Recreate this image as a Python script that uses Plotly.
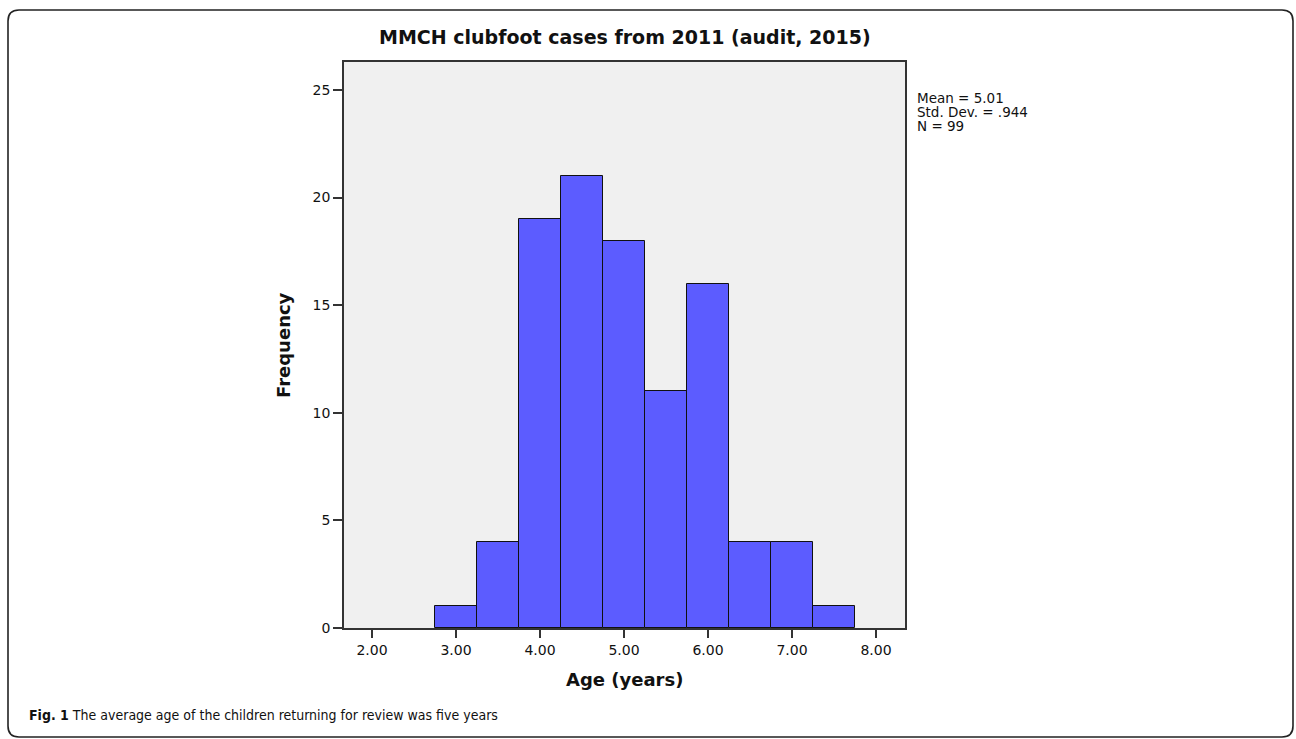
import plotly.graph_objects as go

# ---- data ----
bin_centers = [3.0, 3.5, 4.0, 4.5, 5.0, 5.5, 6.0, 6.5, 7.0, 7.5]
counts = [1, 4, 19, 21, 18, 11, 16, 4, 4, 1]
bin_width = 0.5
x_ticks = [2, 3, 4, 5, 6, 7, 8]
x_tick_labels = ["2.00", "3.00", "4.00", "5.00", "6.00", "7.00", "8.00"]
y_ticks = [0, 5, 10, 15, 20, 25]
stats_lines = ["Mean = 5.01", "Std. Dev. = .944", "N = 99"]
title_text = "MMCH clubfoot cases from 2011 (audit, 2015)"
caption_bold = "Fig. 1"
caption_text = " The average age of the children returning for review was five years"

W, H = 1296, 739
L, R, T, B = 344, 905, 62, 628  # plot area in pixels

def px(xp):
    return (xp - L) / (R - L)

def py(yp):
    return (B - yp) / (B - T)

FONT = "DejaVu Sans, Lucida Grande, Verdana, sans-serif"

fig = go.Figure()
fig.add_trace(go.Bar(
    x=bin_centers, y=counts, width=bin_width,
    marker=dict(color="#5c5cff", line=dict(color="#111111", width=1)),
    hoverinfo="x+y", showlegend=False,
))

# outer rounded border
x0, x1, y0, y1, r = 8, 1293, 10, 737, 11
def P(a, b):
    return f"{px(a):.5f},{py(b):.5f}"
path = (f"M {P(x0 + r, y0)} L {P(x1 - r, y0)} Q {P(x1, y0)} {P(x1, y0 + r)} "
        f"L {P(x1, y1 - r)} Q {P(x1, y1)} {P(x1 - r, y1)} "
        f"L {P(x0 + r, y1)} Q {P(x0, y1)} {P(x0, y1 - r)} "
        f"L {P(x0, y0 + r)} Q {P(x0, y0)} {P(x0 + r, y0)} Z")

annotations = []
for i, line in enumerate(stats_lines):
    annotations.append(dict(
        x=px(915), y=py(98 + 14 * i), xref="paper", yref="paper",
        text=line, showarrow=False, xanchor="left", yanchor="middle",
        font=dict(family=FONT, size=13.5, color="#111111"),
    ))
annotations.append(dict(
    x=0.5, y=py(37), xref="paper", yref="paper", text=title_text,
    showarrow=False, xanchor="center", yanchor="middle",
    font=dict(family=FONT, size=19, color="#111111", weight="bold"),
))
annotations.append(dict(
    x=px(283), y=0.5, xref="paper", yref="paper", text="Frequency",
    showarrow=False, xanchor="center", yanchor="middle", textangle=-90,
    font=dict(family=FONT, size=18, color="#111111", weight="bold"),
))
annotations.append(dict(
    x=0.5, y=py(679), xref="paper", yref="paper", text="Age (years)",
    showarrow=False, xanchor="center", yanchor="middle",
    font=dict(family=FONT, size=18, color="#111111", weight="bold"),
))
annotations.append(dict(
    x=px(27), y=py(715), xref="paper", yref="paper",
    text=f"<b>{caption_bold}</b>{caption_text}",
    showarrow=False, xanchor="left", yanchor="middle",
    font=dict(family="Liberation Sans Narrow, DejaVu Sans Condensed, Roboto, sans-serif",
              size=14, color="#111111"),
))

fig.update_layout(
    width=W, height=H,
    margin=dict(l=L, r=W - R, t=T, b=H - B, pad=0),
    paper_bgcolor="white", plot_bgcolor="#f0f0f0",
    shapes=[dict(type="path", path=path, xref="paper", yref="paper",
                 line=dict(color="#222222", width=1.6), layer="above")],
    annotations=annotations,
    bargap=0,
    font=dict(family=FONT, color="#111111"),
)
fig.update_xaxes(
    range=[1.667, 8.345], tickvals=x_ticks, ticktext=x_tick_labels,
    ticks="outside", ticklen=8, tickwidth=1.5, tickcolor="#333333",
    showline=True, linecolor="#333333", linewidth=1.6, mirror=True,
    showgrid=False, zeroline=False,
    tickfont=dict(family=FONT, size=14, color="#111111"),
)
fig.update_yaxes(
    range=[0, 26.3], tickvals=y_ticks,
    ticks="outside", ticklen=9, tickwidth=1.5, tickcolor="#333333",
    showline=True, linecolor="#333333", linewidth=1.6, mirror=True,
    showgrid=False, zeroline=False,
    tickfont=dict(family=FONT, size=14, color="#111111"),
)

fig.write_html(
    "out.html",
    config={"displayModeBar": False},
    post_script="document.body.style.margin='0';document.body.style.overflow='hidden';",
)
